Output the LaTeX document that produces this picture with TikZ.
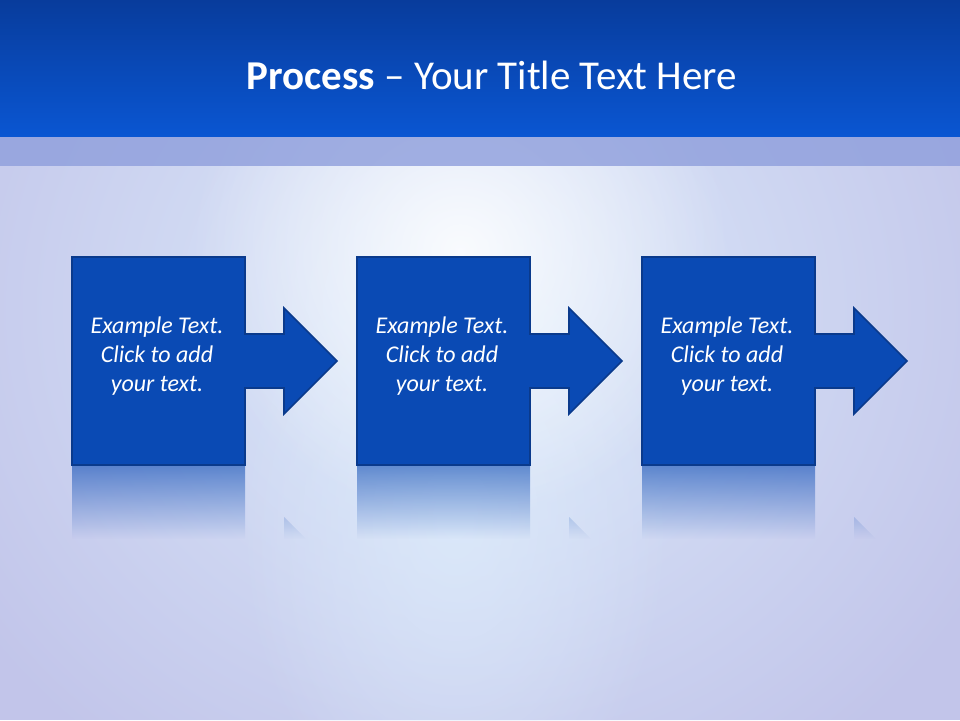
\documentclass[tikz,border=0pt]{standalone}
\usepackage{fontspec}
\setmainfont{Carlito}
\usetikzlibrary{fadings}

\definecolor{titletop}{HTML}{083C9C}
\definecolor{titlebot}{HTML}{0A56D2}
\definecolor{bandblue}{HTML}{8E9EDC}
\definecolor{slidebg}{HTML}{C2C5EA}
\definecolor{glowblue}{HTML}{DDEBFB}
\definecolor{boxblue}{HTML}{0A4AB4}
\definecolor{boxedge}{HTML}{0A3A8C}

\tikzfading[name=glowfade, inner color=transparent!0, outer color=transparent!100]
\tikzfading[name=reflectfade, top color=transparent!42, bottom color=transparent!100]

\tikzset{
	stepshape/.style={fill=boxblue, draw=boxedge, line width=0.8pt, line join=miter},
	steptext/.style={text=white, font=\fontsize{12}{14.5}\selectfont\itshape, align=center},
}

\begin{document}
\begin{tikzpicture}[x=0.5pt,y=-0.5pt]
\useasboundingbox (0,0) rectangle (960,720);
\fill[slidebg] (0,0) rectangle (960,720);
\fill[glowblue, path fading=glowfade] (465,310) ellipse [x radius=600, y radius=560];
\fill[glowblue, opacity=0.8, path fading=glowfade] (455,520) ellipse [x radius=220, y radius=320];
\fill[white, opacity=0.85, path fading=glowfade] (460,250) ellipse [x radius=270, y radius=270];
\fill[bandblue, opacity=0.8] (0,136) rectangle (960,166);
\shade[top color=titletop, bottom color=titlebot] (0,0) rectangle (960,136);
\node[text=white, font=\fontsize{20.5}{24}\selectfont] (title) at (492,75) {\textbf{Process} – Your Title Text Here};
\foreach \o [count=\i] in {0,285,570} {
	\filldraw[stepshape] (72+\o,257) -- (245+\o,257) -- (245+\o,334) -- (284+\o,334) -- (284+\o,308)
		-- (337+\o,361) -- (284+\o,414) -- (284+\o,388) -- (245+\o,388) -- (245+\o,465) -- (72+\o,465) -- cycle;
	\node[steptext] (step\i) at (157+\o,356) {Example Text.\\Click to add\\your text.};
	\fill[boxblue, path fading=reflectfade] (72+\o,466) -- (245+\o,466) -- (245+\o,539) -- (284+\o,539)
		-- (284+\o,517) -- (306+\o,539) -- (72+\o,539) -- cycle;
}
\end{tikzpicture}
\end{document}
